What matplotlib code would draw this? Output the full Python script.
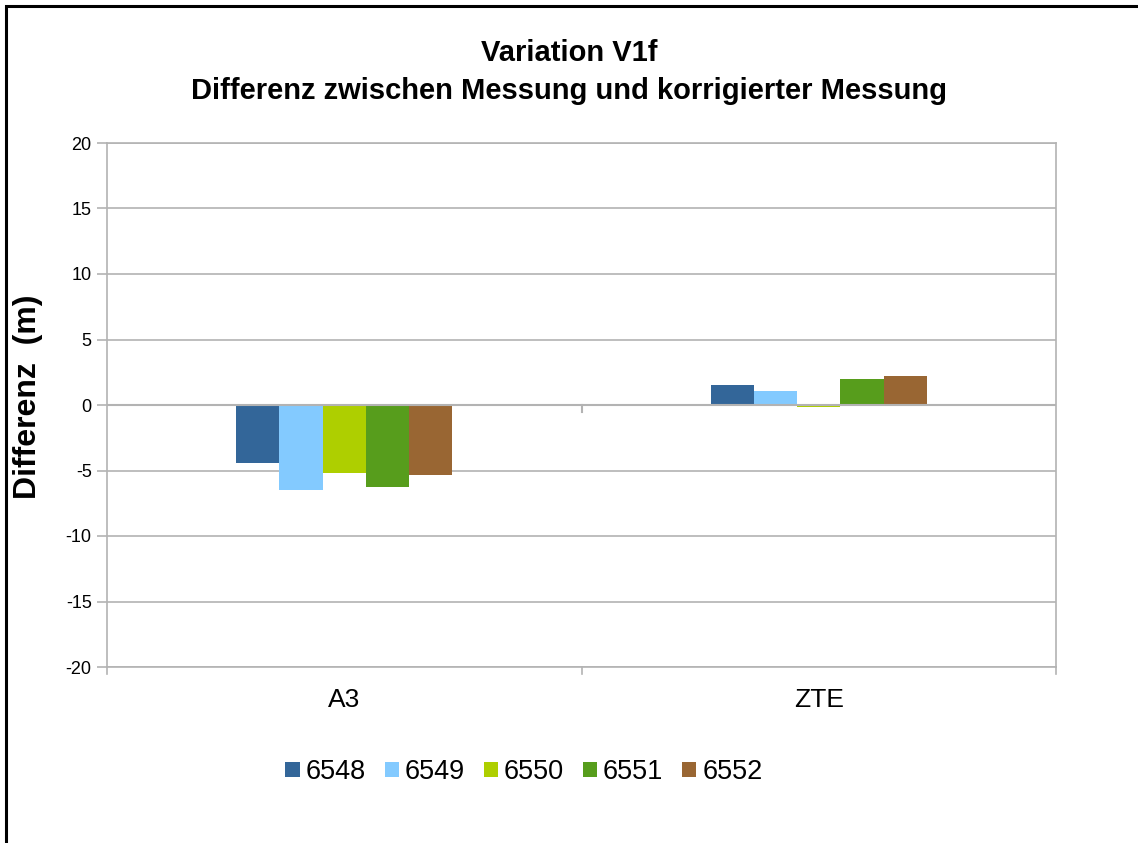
import matplotlib.pyplot as plt
import numpy as np
from matplotlib.patches import Rectangle

plt.rcParams['font.family'] = ['Liberation Sans', 'DejaVu Sans']
plt.rcParams['axes.unicode_minus'] = False

categories = ['A3', 'ZTE']
series = ['6548', '6549', '6550', '6551', '6552']
values = {
    '6548': [-4.4, 1.55],
    '6549': [-6.5, 1.1],
    '6550': [-5.17, -0.18],
    '6551': [-6.27, 2.0],
    '6552': [-5.35, 2.25],
}
colors = ['#336699', '#83caff', '#aecf00', '#579d1c', '#996633']

fig = plt.figure(figsize=(11.38, 8.43), dpi=100)
ax = fig.add_axes([107/1138, 1-667/843, (1056-107)/1138, (667-143)/843])

x = np.arange(len(categories)) + 0.5
w = 0.0911
for i, (s, c) in enumerate(zip(series, colors)):
    ax.bar(x + (i - 2) * w, values[s], width=w, color=c, label=s, zorder=3)

ax.set_xlim(0, 2)
ax.set_ylim(-20, 20)
ax.set_yticks(range(-20, 21, 5))
ax.yaxis.grid(True, color='#b3b3b3', linewidth=1.2, zorder=0)
ax.axhline(0, color='#b3b3b3', linewidth=1.5, zorder=4)
for sp in ax.spines.values():
    sp.set_color('#b3b3b3')
    sp.set_linewidth(1.2)
ax.tick_params(axis='y', length=7, color='#b3b3b3', width=1.2, labelsize=13, pad=4)
ax.set_xticks(x)
ax.set_xticklabels(categories, fontsize=19)
ax.tick_params(axis='x', length=0, pad=15)
# category boundary ticks
for xb in [0, 1, 2]:
    ax.plot([xb, xb], [-20, -20.55], color='#b3b3b3', lw=1.2, clip_on=False, zorder=5)
ax.plot([1, 1], [0, -0.55], color='#b3b3b3', lw=1.5, zorder=5)

ax.set_ylabel('Differenz  (m)', fontsize=23, fontweight='bold')
ax.yaxis.set_label_coords(-64/949, (667-397)/524)

fig.text(0.5, 1-72/843, 'Variation V1f\nDifferenz zwischen Messung und korrigierter Messung',
         ha='center', va='center', fontsize=21, fontweight='bold', linespacing=1.42)

ax.legend(loc='center', bbox_to_anchor=(524/1138, 1-772/843), bbox_transform=fig.transFigure,
          ncol=5, frameon=False, fontsize=19.5, handlelength=0.52, handleheight=0.52,
          handletextpad=0.22, columnspacing=0.7)

fig.patches.append(Rectangle((6/1138, -0.1), 1.2, 1-6/843+0.1, transform=fig.transFigure,
                             fill=False, edgecolor='black', linewidth=2.2))

fig.savefig('out.png', dpi=100)
